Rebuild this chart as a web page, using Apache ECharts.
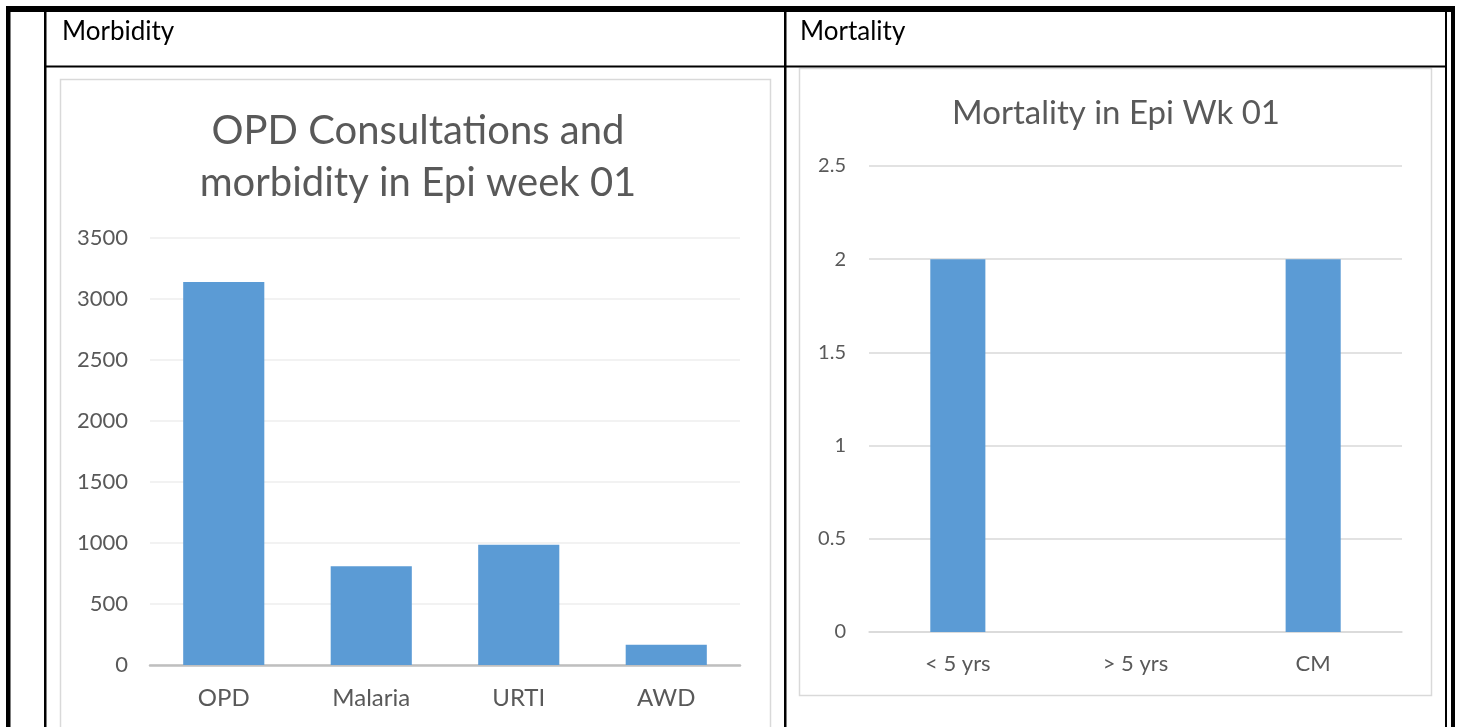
<!DOCTYPE html>
<html>
<head>
<meta charset="utf-8">
<script src="https://cdn.jsdelivr.net/npm/echarts@6/dist/echarts.min.js"></script>
<style>
html,body{margin:0;padding:0;background:#fff;}
#c{width:1458px;height:727px;}
</style>
</head>
<body>
<div id="c"></div>
<script>
// Data
const morbCategories = ['OPD', 'Malaria', 'URTI', 'AWD'];
const morbValues = [3140, 810, 985, 165];
const mortCategories = ['< 5 yrs', '> 5 yrs', 'CM'];
const mortValues = [2, 0, 2];
const morbTitle = 'OPD Consultations and\nmorbidity in Epi week 01';
const mortTitle = 'Mortality in Epi Wk 01';
const headerLeft = 'Morbidity';
const headerRight = 'Mortality';

const FONT = 'Lato';
const chart = echarts.init(document.getElementById('c'), null, {renderer: 'canvas'});

function rect(x, y, w, h, fill) {
  return {type: 'rect', silent: true, shape: {x: x, y: y, width: w, height: h}, style: {fill: fill}};
}
function frame(x, y, w, h) {
  return {type: 'rect', silent: true, shape: {x: x, y: y, width: w, height: h},
    style: {fill: 'none', stroke: '#d9d9d9', lineWidth: 1.5}, z: -1};
}
const plain = function (v) { return String(v); };

const option = {
  backgroundColor: '#ffffff',
  animation: false,
  textStyle: {fontFamily: FONT},
  title: [
    {text: morbTitle, left: 413, top: 100, textAlign: 'center',
     textStyle: {fontFamily: FONT, fontSize: 40, fontWeight: 'normal', color: '#595959', lineHeight: 52, align: 'center'}},
    {text: mortTitle, left: 1111, top: 92, textAlign: 'center',
     textStyle: {fontFamily: FONT, fontSize: 33, fontWeight: 'normal', color: '#595959'}}
  ],
  grid: [
    {left: 150, top: 238, width: 590, height: 427, containLabel: false},
    {left: 869, top: 166, width: 533, height: 466, containLabel: false}
  ],
  xAxis: [
    {type: 'category', gridIndex: 0, data: morbCategories,
     axisLine: {show: true, lineStyle: {color: '#bfbfbf', width: 2.5}},
     axisTick: {show: false},
     axisLabel: {color: '#595959', fontSize: 24, margin: 21, fontFamily: FONT}},
    {type: 'category', gridIndex: 1, data: mortCategories,
     axisLine: {show: true, lineStyle: {color: '#d9d9d9', width: 1.5}},
     axisTick: {show: false},
     axisLabel: {color: '#595959', fontSize: 22, margin: 21, fontFamily: FONT}}
  ],
  yAxis: [
    {type: 'value', gridIndex: 0, min: 0, max: 3500, interval: 500,
     axisLine: {show: false}, axisTick: {show: false},
     splitLine: {lineStyle: {color: '#eeeeee', width: 1.5}},
     axisLabel: {color: '#595959', fontSize: 22, margin: 22, fontFamily: FONT, formatter: plain}},
    {type: 'value', gridIndex: 1, min: 0, max: 2.5, interval: 0.5,
     axisLine: {show: false}, axisTick: {show: false},
     splitLine: {lineStyle: {color: '#d9d9d9', width: 1.5}},
     axisLabel: {color: '#595959', fontSize: 20, margin: 23, fontFamily: FONT, formatter: plain}}
  ],
  series: [
    {type: 'bar', xAxisIndex: 0, yAxisIndex: 0, data: morbValues, barWidth: '55%',
     itemStyle: {color: '#5b9bd5'}},
    {type: 'bar', xAxisIndex: 1, yAxisIndex: 1, data: mortValues, barWidth: '31%',
     itemStyle: {color: '#5b9bd5'}}
  ],
  graphic: [
    // chart frames
    frame(60.5, 79.5, 710, 660),
    frame(799.5, 68.5, 632, 627),
    // table borders
    rect(6, 6, 1449, 6, '#000'),
    rect(6, 6, 4.5, 721, '#000'),
    rect(44, 11, 2.5, 716, '#000'),
    rect(784, 11, 2.5, 716, '#000'),
    rect(1445, 11, 2, 716, '#000'),
    rect(1451, 6, 4, 721, '#000'),
    rect(46, 65.5, 1399, 2, '#000'),
    // header texts
    {type: 'text', silent: true, style: {text: headerLeft, x: 62, y: 32, verticalAlign: 'middle',
      fill: '#000', font: 'normal 26px ' + FONT}},
    {type: 'text', silent: true, style: {text: headerRight, x: 800, y: 32, verticalAlign: 'middle',
      fill: '#000', font: 'normal 26px ' + FONT}}
  ]
};
chart.setOption(option);
</script>
</body>
</html>
